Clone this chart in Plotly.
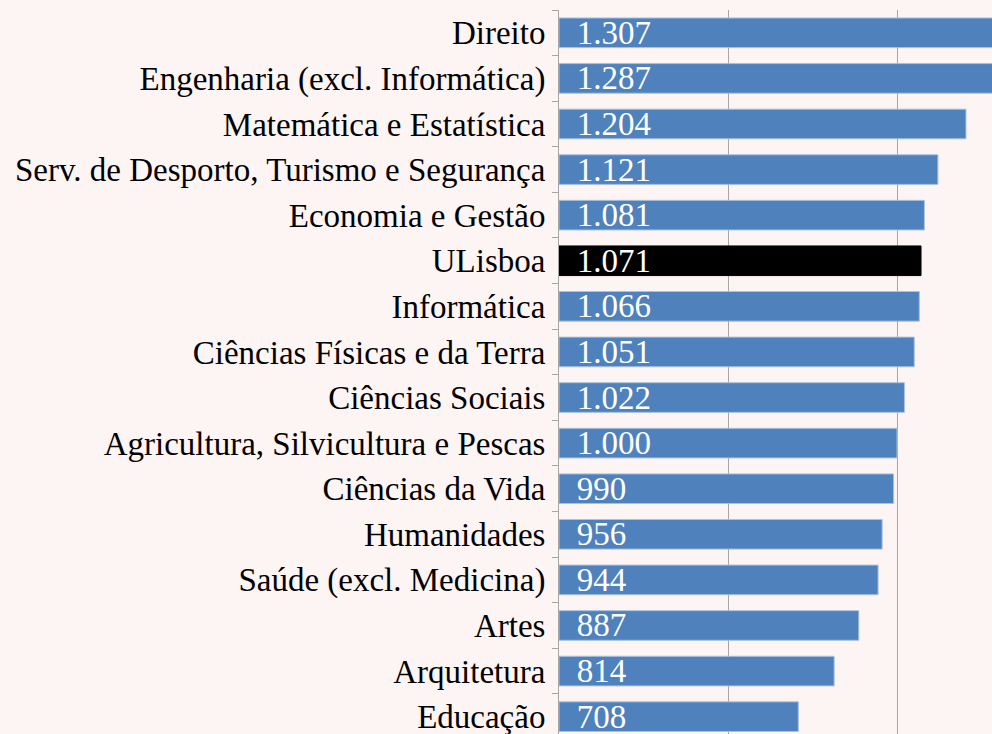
import plotly.graph_objects as go

categories = [
    "Direito",
    "Engenharia (excl. Informática)",
    "Matemática e Estatística",
    "Serv. de Desporto, Turismo e Segurança",
    "Economia e Gestão",
    "ULisboa",
    "Informática",
    "Ciências Físicas e da Terra",
    "Ciências Sociais",
    "Agricultura, Silvicultura e Pescas",
    "Ciências da Vida",
    "Humanidades",
    "Saúde (excl. Medicina)",
    "Artes",
    "Arquitetura",
    "Educação",
]
values = [1307, 1287, 1204, 1121, 1081, 1071, 1066, 1051, 1022, 1000, 990, 956, 944, 887, 814, 708]

highlight = "ULisboa"
colors = ["#000000" if c == highlight else "#4f81bd" for c in categories]
line_colors = ["#000000" if c == highlight else "#a9c1e0" for c in categories]
labels = ["\u00a0\u2009" + f"{v:,}".replace(",", ".") for v in values]

FONT = "Liberation Serif"

fig = go.Figure(
    go.Bar(
        y=categories,
        x=values,
        orientation="h",
        marker=dict(color=colors, line=dict(color=line_colors, width=1)),
        text=labels,
        textposition="inside",
        insidetextanchor="start",
        textangle=0,
        constraintext="none",
        textfont=dict(family=FONT, size=33, color="white"),
        hoverinfo="skip",
    )
)

fig.update_layout(
    width=992,
    height=734,
    margin=dict(l=559, r=0, t=10, b=0),
    paper_bgcolor="#fdf5f3",
    plot_bgcolor="#fdf5f3",
    bargap=0.35,
    showlegend=False,
    font=dict(family=FONT, size=33, color="black"),
)
fig.update_xaxes(
    range=[0, 1281],
    showgrid=True,
    gridcolor="#a6a6a6",
    gridwidth=1,
    dtick=500,
    showticklabels=False,
    zeroline=False,
    showline=False,
)
fig.update_yaxes(
    type="category",
    categoryorder="array",
    categoryarray=categories,
    range=[15.38, -0.5],
    showline=True,
    linecolor="#a6a6a6",
    linewidth=1,
    ticks="outside",
    tickson="boundaries",
    ticklen=6,
    tickcolor="#a6a6a6",
    showgrid=False,
    ticklabelstandoff=6,
    tickfont=dict(family=FONT, size=33, color="black"),
)

fig.write_html(
    "out.html",
    config={"displayModeBar": False},
    post_script="document.body.style.margin='0';document.body.style.background='#fdf5f3';",
)
